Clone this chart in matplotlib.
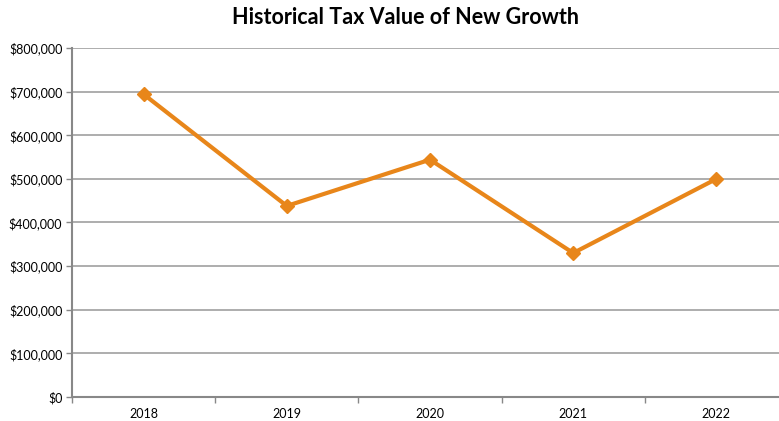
import matplotlib
matplotlib.use("Agg")
import matplotlib.pyplot as plt
from matplotlib.ticker import FuncFormatter, FixedLocator

# 历年新增税值
years = ["2018", "2019", "2020", "2021", "2022"]
tax_values = [694000, 438000, 544000, 330000, 500000]
y_ticks = [0, 100000, 200000, 300000, 400000, 500000, 600000, 700000, 800000]

plt.rcParams['font.family'] = ['Lato', 'DejaVu Sans']

fig = plt.figure(figsize=(7.79, 4.21), dpi=100)
# 绘图区右侧超出画布
ax = fig.add_axes([72 / 779, 1 - 397 / 421, 716 / 779, 349 / 421])

x = list(range(len(years)))
ax.plot(x, tax_values, color='#E8861A', linewidth=3, marker='D',
        markersize=7, markerfacecolor='#E8861A', markeredgecolor='#E8861A',
        solid_joinstyle='miter', zorder=3)

ax.set_xlim(-0.5, len(years) - 0.5)
ax.set_ylim(0, 800000)
ax.set_yticks(y_ticks)
ax.yaxis.set_major_formatter(FuncFormatter(lambda v, p: f"${v:,.0f}"))
ax.yaxis.grid(True, color='#A0A0A0', linewidth=1.2)
ax.set_axisbelow(True)

# 类别标签居中，刻度线在类别之间
ax.set_xticks(x)
ax.set_xticklabels(years)
ax.xaxis.set_minor_locator(FixedLocator([i + 0.5 for i in range(-1, len(years))]))
ax.tick_params(axis='x', which='major', length=0, pad=8, labelsize=9)
ax.tick_params(axis='x', which='minor', length=4, color='#888888', width=1)
ax.tick_params(axis='y', length=4, color='#888888', width=1, labelsize=9, pad=3)

for side in ['top', 'right']:
    ax.spines[side].set_visible(False)
for side in ['left', 'bottom']:
    ax.spines[side].set_color('#888888')
    ax.spines[side].set_linewidth(1.5)

fig.text(405 / 779, 1 - 18 / 421, "Historical Tax Value of New Growth",
         ha='center', va='center', fontsize=15.5, fontweight='bold')

fig.savefig('out.png', dpi=100)
